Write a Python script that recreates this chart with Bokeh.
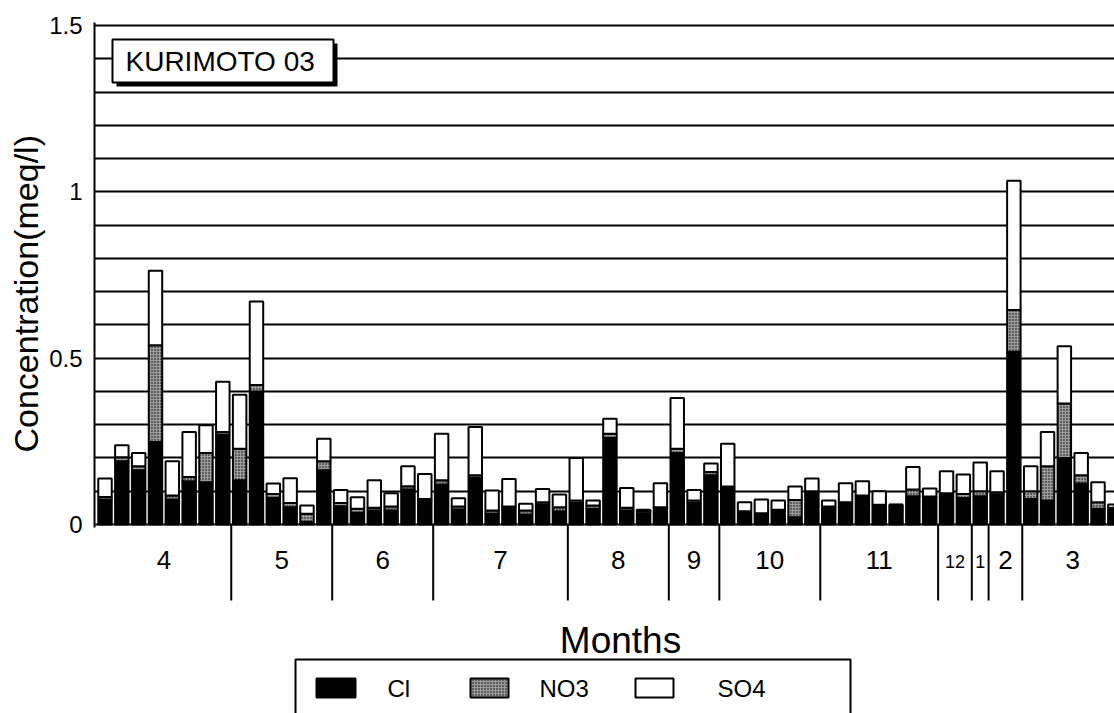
from bokeh.plotting import figure
from bokeh.models import Range1d, FixedTicker, ColumnDataSource, Title
from bokeh.core.properties import value
from bokeh.embed import file_html
from bokeh.resources import INLINE

# ---- data -------------------------------------------------------------
months = ["4", "5", "6", "7", "8", "9", "10", "11", "12", "1", "2", "3"]
samples_per_month = [8, 6, 6, 8, 6, 3, 6, 7, 2, 1, 2, 6]

cl = [0.075, 0.190, 0.163, 0.248, 0.075, 0.130, 0.127, 0.270,
      0.133, 0.400, 0.080, 0.052, 0.008, 0.163,
      0.055, 0.035, 0.042, 0.042, 0.105, 0.074,
      0.120, 0.045, 0.140, 0.032, 0.052, 0.030, 0.060, 0.040,
      0.065, 0.047, 0.260, 0.042, 0.033, 0.050,
      0.215, 0.065, 0.148,
      0.108, 0.040, 0.034, 0.044, 0.022, 0.100,
      0.050, 0.067, 0.087, 0.059, 0.059, 0.085, 0.080,
      0.094, 0.080,
      0.085,
      0.090, 0.519,
      0.077, 0.072, 0.200, 0.123, 0.047, 0.045]

no3 = [0.008, 0.012, 0.012, 0.291, 0.012, 0.013, 0.088, 0.008,
       0.095, 0.019, 0.012, 0.013, 0.024, 0.027,
       0.010, 0.012, 0.008, 0.012, 0.010, 0.003,
       0.013, 0.009, 0.008, 0.010, 0.002, 0.012, 0.007, 0.012,
       0.007, 0.010, 0.013, 0.008, 0.007, 0.002,
       0.013, 0.007, 0.010,
       0.006, 0.000, 0.000, 0.000, 0.052, 0.000,
       0.004, 0.000, 0.000, 0.000, 0.000, 0.020, 0.004,
       0.000, 0.012,
       0.015,
       0.007, 0.126,
       0.023, 0.103, 0.164, 0.025, 0.020, 0.005]

so4 = [0.055, 0.036, 0.040, 0.224, 0.103, 0.135, 0.083, 0.151,
       0.162, 0.251, 0.031, 0.074, 0.025, 0.068,
       0.039, 0.035, 0.083, 0.040, 0.060, 0.075,
       0.140, 0.025, 0.145, 0.060, 0.083, 0.020, 0.040, 0.038,
       0.128, 0.015, 0.045, 0.060, 0.004, 0.072,
       0.152, 0.032, 0.025,
       0.129, 0.027, 0.041, 0.028, 0.040, 0.038,
       0.018, 0.057, 0.043, 0.041, 0.000, 0.068, 0.024,
       0.066, 0.058,
       0.086,
       0.063, 0.388,
       0.075, 0.103, 0.172, 0.067, 0.060, 0.010]

species = ["Cl", "NO3", "SO4"]
y_ticks = [0, 0.5, 1, 1.5]
y_tick_labels = ["0", "0.5", "1", "1.5"]
grid_levels = [k / 10 for k in range(16)]
site_name = "KURIMOTO 03"

# ---- layout constants -------------------------------------------------
W, H = 1114, 713
LEFT = 94
FRAME_TOP = 22          # pixel row of the frame's top edge
PX_TOP, PX_ZERO = 25, 524   # pixel rows of 1.5 and 0
UNIT = (PX_ZERO - PX_TOP) / 1.5
X0, X1 = 0.376, 60.98
Y1 = 1.5 + (PX_TOP - FRAME_TOP) / UNIT
Y0 = -(H - PX_ZERO) / UNIT
FONT = "Liberation Sans"

fills = ["black", "#9c9c9c", "white"]
hatches = [" ", "dot", " "]


def px2x(px):
    return X0 + (px - LEFT) * (X1 - X0) / (W - LEFT)


def py2y(py):
    return (PX_ZERO - py) / UNIT


xs = list(range(1, len(cl) + 1))
src = ColumnDataSource(dict(x=xs, Cl=cl, NO3=no3, SO4=so4))

p = figure(width=W, height=H, x_range=Range1d(X0, X1), y_range=Range1d(Y0, Y1),
           x_axis_location=None, output_backend="svg", toolbar_location=None,
           min_border_left=LEFT, min_border_right=0, min_border_top=FRAME_TOP,
           min_border_bottom=0)
p.outline_line_color = None
p.background_fill_color = "white"
p.border_fill_color = "white"
p.xgrid.grid_line_color = None

# y axis: labelled at 0, 0.5, 1, 1.5; line only over the data range
p.yaxis.ticker = FixedTicker(ticks=y_ticks)
p.yaxis.major_label_overrides = {t: s for t, s in zip(y_ticks, y_tick_labels)}
p.yaxis.bounds = (-0.01, Y1)
p.yaxis.major_label_text_font = FONT
p.yaxis.major_label_text_font_size = "24px"
p.yaxis.major_label_text_color = "black"
p.yaxis.major_label_standoff = 6
p.yaxis.major_tick_line_color = None
p.yaxis.minor_tick_line_color = None
p.yaxis.axis_line_color = "black"
p.yaxis.axis_line_width = 2

ytitle = Title(text="Concentration(meq/l)", align="left", offset=H - 452,
               text_font=FONT, text_font_style="normal",
               text_font_size="34px", text_color="black", standoff=4)
p.add_layout(ytitle, "left")

p.ygrid.ticker = FixedTicker(ticks=grid_levels)
p.ygrid.grid_line_color = "black"
p.ygrid.grid_line_width = 2

p.vbar_stack(species, x="x", width=0.8, source=src,
             fill_color=fills, line_color="black", line_width=2,
             hatch_pattern=hatches, hatch_color="black",
             hatch_scale=3, hatch_weight=1)

# site name box with drop shadow
p.quad(left=[px2x(116)], right=[px2x(337)], top=[py2y(43)], bottom=[py2y(86)],
       fill_color="black", line_color=None)
p.quad(left=[px2x(112)], right=[px2x(333)], top=[py2y(39)], bottom=[py2y(82)],
       fill_color="white", line_color="black", line_width=2)
p.text(x=[px2x(125)], y=[py2y(61)], text=[site_name], text_font=value(FONT),
       text_font_size="28px", text_baseline="middle", text_align="left",
       text_color="black")

# ---- month strip ------------------------------------------------------
ends = []
total = 0
for n in samples_per_month:
    total += n
    ends.append(total)
starts = [e - n + 1 for e, n in zip(ends, samples_per_month)]
centers = [(s + e) / 2 for s, e in zip(starts, ends)]
seps = [e + 0.5 for e in ends[:-1]]

p.segment(x0=seps, y0=[0] * len(seps), x1=seps, y1=[py2y(600)] * len(seps),
          line_color="black", line_width=2)

small_names = ("12", "1")
big = [m for m in months if m not in small_names]
p.text(x=[c for c, m in zip(centers, months) if m in big],
       y=[py2y(559)] * len(big), text=big, text_font=value(FONT),
       text_font_size="26px", text_align="center", text_baseline="middle",
       text_color="black")
small = [m for m in months if m in small_names]
p.text(x=[c for c, m in zip(centers, months) if m in small],
       y=[py2y(561)] * len(small), text=small, text_font=value(FONT),
       text_font_size="18px", text_align="center", text_baseline="middle",
       text_color="black")

p.text(x=[px2x(620)], y=[py2y(640)], text=["Months"], text_font=value(FONT),
       text_font_size="37px", text_align="center", text_baseline="middle",
       text_color="black")

# ---- legend -----------------------------------------------------------
p.quad(left=[px2x(295)], right=[px2x(850)], top=[py2y(659)],
       bottom=[py2y(740)], fill_color="white", line_color="black",
       line_width=2)
sw_left = [px2x(316), px2x(470), px2x(635)]
sw_right = [px2x(355), px2x(508), px2x(673)]
p.quad(left=sw_left, right=sw_right, top=[py2y(678)] * 3,
       bottom=[py2y(697)] * 3, fill_color=fills, line_color="black",
       line_width=2, hatch_pattern=hatches, hatch_color="black",
       hatch_scale=3, hatch_weight=1)
p.text(x=[px2x(387), px2x(539), px2x(717)], y=[py2y(688)] * 3, text=species,
       text_font=value(FONT), text_font_size="24px", text_align="left",
       text_baseline="middle", text_color="black")

open("out.html", "w").write(file_html(p, INLINE))
